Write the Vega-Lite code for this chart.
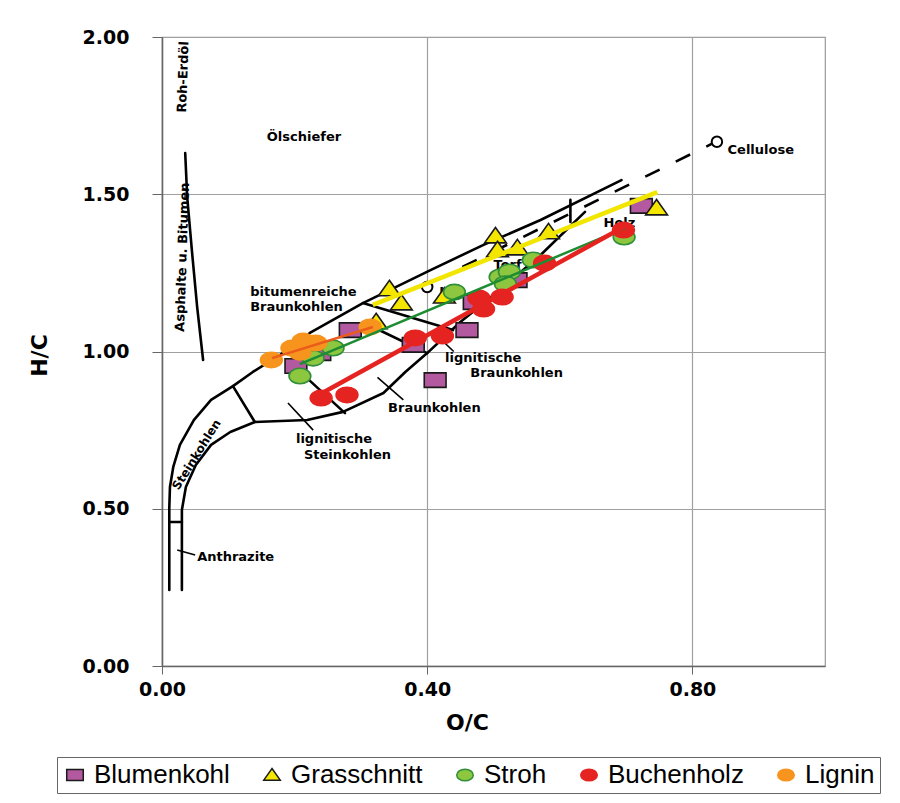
{
  "$schema": "https://vega.github.io/schema/vega-lite/v6.json",
  "width": 663,
  "height": 629,
  "autosize": "none",
  "padding": {"left": 162, "top": 37, "right": 75, "bottom": 137},
  "background": "white",
  "config": {
    "view": {"stroke": "#9a9a9a", "strokeWidth": 1.2},
    "font": "DejaVu Sans",
    "legend": {
      "orient": "none",
      "legendX": -105,
      "legendY": 720,
      "direction": "horizontal",
      "columns": 5,
      "strokeColor": "#666666",
      "padding": 5,
      "labelFont": "Liberation Sans",
      "labelFontSize": 26,
      "labelColor": "black",
      "symbolSize": 190,
      "symbolStrokeWidth": 1.5,
      "symbolOpacity": 1,
      "columnPadding": 29,
      "labelOffset": 6
    }
  },
  "datasets": {
    "bnd": [
      {"p": "A", "i": 0, "x": 0.011, "y": 0.242},
      {"p": "A", "i": 1, "x": 0.011, "y": 0.502},
      {"p": "A", "i": 2, "x": 0.012, "y": 0.569},
      {"p": "A", "i": 3, "x": 0.017, "y": 0.633},
      {"p": "A", "i": 4, "x": 0.027, "y": 0.703},
      {"p": "A", "i": 5, "x": 0.048, "y": 0.782},
      {"p": "A", "i": 6, "x": 0.074, "y": 0.846},
      {"p": "A", "i": 7, "x": 0.107, "y": 0.890},
      {"p": "A", "i": 8, "x": 0.137, "y": 0.935},
      {"p": "A", "i": 9, "x": 0.178, "y": 0.989},
      {"p": "A", "i": 10, "x": 0.223, "y": 1.059},
      {"p": "A", "i": 11, "x": 0.303, "y": 1.154},
      {"p": "A", "i": 12, "x": 0.405, "y": 1.259},
      {"p": "A", "i": 13, "x": 0.485, "y": 1.339},
      {"p": "A", "i": 14, "x": 0.571, "y": 1.418},
      {"p": "A", "i": 15, "x": 0.693, "y": 1.545},
      {"p": "B", "i": 0, "x": 0.030, "y": 0.242},
      {"p": "B", "i": 1, "x": 0.030, "y": 0.496},
      {"p": "B", "i": 2, "x": 0.036, "y": 0.569},
      {"p": "B", "i": 3, "x": 0.051, "y": 0.639},
      {"p": "B", "i": 4, "x": 0.074, "y": 0.703},
      {"p": "B", "i": 5, "x": 0.103, "y": 0.744},
      {"p": "B", "i": 6, "x": 0.140, "y": 0.776},
      {"p": "B", "i": 7, "x": 0.219, "y": 0.782},
      {"p": "B", "i": 8, "x": 0.273, "y": 0.808},
      {"p": "B", "i": 9, "x": 0.334, "y": 0.868},
      {"p": "B", "i": 10, "x": 0.367, "y": 0.935},
      {"p": "B", "i": 11, "x": 0.400, "y": 0.995},
      {"p": "B", "i": 12, "x": 0.450, "y": 1.094},
      {"p": "B", "i": 13, "x": 0.510, "y": 1.196},
      {"p": "B", "i": 14, "x": 0.571, "y": 1.307},
      {"p": "B", "i": 15, "x": 0.638, "y": 1.444},
      {"p": "C", "i": 0, "x": 0.011, "y": 0.458},
      {"p": "C", "i": 1, "x": 0.030, "y": 0.458},
      {"p": "D", "i": 0, "x": 0.107, "y": 0.890},
      {"p": "D", "i": 1, "x": 0.140, "y": 0.776},
      {"p": "E", "i": 0, "x": 0.202, "y": 0.948},
      {"p": "E", "i": 1, "x": 0.276, "y": 0.804},
      {"p": "F", "i": 0, "x": 0.303, "y": 1.154},
      {"p": "F", "i": 1, "x": 0.439, "y": 1.068},
      {"p": "G", "i": 0, "x": 0.318, "y": 1.078},
      {"p": "G", "i": 1, "x": 0.400, "y": 0.995},
      {"p": "T", "i": 0, "x": 0.616, "y": 1.482},
      {"p": "T", "i": 1, "x": 0.616, "y": 1.412},
      {"p": "H", "i": 0, "x": 0.035, "y": 1.631},
      {"p": "H", "i": 1, "x": 0.038, "y": 1.491},
      {"p": "H", "i": 2, "x": 0.045, "y": 1.323},
      {"p": "H", "i": 3, "x": 0.053, "y": 1.142},
      {"p": "H", "i": 4, "x": 0.062, "y": 0.973}
    ],
    "ptr": [
      {"p": "P1", "i": 0, "x": 0.325, "y": 0.918},
      {"p": "P1", "i": 1, "x": 0.364, "y": 0.846},
      {"p": "P2", "i": 0, "x": 0.415, "y": 1.050},
      {"p": "P2", "i": 1, "x": 0.440, "y": 1.000},
      {"p": "P3", "i": 0, "x": 0.190, "y": 0.836},
      {"p": "P3", "i": 1, "x": 0.228, "y": 0.750},
      {"p": "P4", "i": 0, "x": 0.023, "y": 0.369},
      {"p": "P4", "i": 1, "x": 0.050, "y": 0.353}
    ],
    "dash": [
      {"i": 0, "x": 0.453, "y": 1.269},
      {"i": 1, "x": 0.829, "y": 1.660}
    ],
    "ref": [
      {"name": "Cellulose", "x": 0.837, "y": 1.667},
      {"name": "Lignin", "x": 0.400, "y": 1.205}
    ],
    "labels": [
      {"t": "Ölschiefer", "x": 0.158, "y": 1.682},
      {"t": "bitumenreiche", "x": 0.133, "y": 1.189},
      {"t": "Braunkohlen", "x": 0.133, "y": 1.141},
      {"t": "lignitische", "x": 0.427, "y": 0.979},
      {"t": "Braunkohlen", "x": 0.465, "y": 0.932},
      {"t": "Braunkohlen", "x": 0.341, "y": 0.820},
      {"t": "lignitische", "x": 0.202, "y": 0.722},
      {"t": "Steinkohlen", "x": 0.214, "y": 0.671},
      {"t": "Anthrazite", "x": 0.053, "y": 0.347},
      {"t": "Cellulose", "x": 0.853, "y": 1.641},
      {"t": "Torf", "x": 0.500, "y": 1.275},
      {"t": "Holz", "x": 0.666, "y": 1.409},
      {"t": "L", "x": 0.418, "y": 1.190}
    ],
    "vlabels": [
      {"t": "Roh-Erdöl", "x": 0.032, "y": 1.873},
      {"t": "Asphalte u. Bitumen", "x": 0.031, "y": 1.300}
    ],
    "slabels": [
      {"t": "Steinkohlen", "x": 0.052, "y": 0.672}
    ],
    "pts": [
      {"series": "Blumenkohl", "oc": 0.202, "hc": 0.954},
      {"series": "Blumenkohl", "oc": 0.238, "hc": 0.995},
      {"series": "Blumenkohl", "oc": 0.284, "hc": 1.068},
      {"series": "Blumenkohl", "oc": 0.379, "hc": 1.021},
      {"series": "Blumenkohl", "oc": 0.412, "hc": 0.909},
      {"series": "Blumenkohl", "oc": 0.460, "hc": 1.068},
      {"series": "Blumenkohl", "oc": 0.471, "hc": 1.157},
      {"series": "Blumenkohl", "oc": 0.534, "hc": 1.227},
      {"series": "Blumenkohl", "oc": 0.723, "hc": 1.463},
      {"series": "Grasschnitt", "oc": 0.343, "hc": 1.199},
      {"series": "Grasschnitt", "oc": 0.361, "hc": 1.154},
      {"series": "Grasschnitt", "oc": 0.323, "hc": 1.094},
      {"series": "Grasschnitt", "oc": 0.426, "hc": 1.176},
      {"series": "Grasschnitt", "oc": 0.503, "hc": 1.367},
      {"series": "Grasschnitt", "oc": 0.506, "hc": 1.323},
      {"series": "Grasschnitt", "oc": 0.536, "hc": 1.329},
      {"series": "Grasschnitt", "oc": 0.583, "hc": 1.380},
      {"series": "Grasschnitt", "oc": 0.746, "hc": 1.456},
      {"series": "Stroh", "oc": 0.208, "hc": 0.922},
      {"series": "Stroh", "oc": 0.228, "hc": 0.979},
      {"series": "Stroh", "oc": 0.258, "hc": 1.011},
      {"series": "Stroh", "oc": 0.441, "hc": 1.189},
      {"series": "Stroh", "oc": 0.510, "hc": 1.237},
      {"series": "Stroh", "oc": 0.524, "hc": 1.253},
      {"series": "Stroh", "oc": 0.518, "hc": 1.215},
      {"series": "Stroh", "oc": 0.560, "hc": 1.291},
      {"series": "Stroh", "oc": 0.697, "hc": 1.364},
      {"series": "Buchenholz", "oc": 0.240, "hc": 0.852},
      {"series": "Buchenholz", "oc": 0.279, "hc": 0.862},
      {"series": "Buchenholz", "oc": 0.382, "hc": 1.043},
      {"series": "Buchenholz", "oc": 0.423, "hc": 1.049},
      {"series": "Buchenholz", "oc": 0.478, "hc": 1.170},
      {"series": "Buchenholz", "oc": 0.485, "hc": 1.135},
      {"series": "Buchenholz", "oc": 0.513, "hc": 1.173},
      {"series": "Buchenholz", "oc": 0.577, "hc": 1.281},
      {"series": "Buchenholz", "oc": 0.696, "hc": 1.386},
      {"series": "Lignin", "oc": 0.165, "hc": 0.973},
      {"series": "Lignin", "oc": 0.196, "hc": 1.011},
      {"series": "Lignin", "oc": 0.213, "hc": 1.033},
      {"series": "Lignin", "oc": 0.232, "hc": 1.027},
      {"series": "Lignin", "oc": 0.208, "hc": 0.998},
      {"series": "Lignin", "oc": 0.314, "hc": 1.078}
    ],
    "fits": [
      {"series": "Grasschnitt", "oc": 0.318, "hc": 1.148},
      {"series": "Grasschnitt", "oc": 0.747, "hc": 1.507},
      {"series": "Stroh", "oc": 0.208, "hc": 0.960},
      {"series": "Stroh", "oc": 0.699, "hc": 1.393},
      {"series": "Buchenholz", "oc": 0.228, "hc": 0.852},
      {"series": "Buchenholz", "oc": 0.699, "hc": 1.399},
      {"series": "Lignin", "oc": 0.166, "hc": 0.979},
      {"series": "Lignin", "oc": 0.318, "hc": 1.078}
    ]
  },
  "layer": [
    {
      "data": {"name": "bnd"},
      "mark": {"type": "line", "color": "black", "strokeWidth": 2.6, "strokeJoin": "round", "strokeCap": "round"},
      "encoding": {
        "x": {
          "field": "x", "type": "quantitative",
          "scale": {"domain": [0, 1], "nice": false, "zero": false},
          "axis": {
            "values": [0, 0.4, 0.8], "format": ".2f", "labelFlush": false,
            "labelFont": "DejaVu Sans", "labelFontWeight": "bold", "labelFontSize": 19, "labelColor": "black",
            "labelPadding": 6, "tickSize": 8, "tickColor": "#666666", "domainColor": "#666666", "domainWidth": 1.5,
            "gridColor": "#a0a0a0", "gridWidth": 1.2,
            "title": "O/C", "titleFont": "DejaVu Sans", "titleFontWeight": "bold", "titleFontSize": 22, "titleColor": "black",
            "titleX": 305, "titleY": 56, "titleAlign": "center", "titleBaseline": "middle"
          }
        },
        "y": {
          "field": "y", "type": "quantitative",
          "scale": {"domain": [0, 2], "nice": false, "zero": false},
          "axis": {
            "values": [0, 0.5, 1, 1.5, 2], "format": ".2f", "labelFlush": false,
            "labelFont": "DejaVu Sans", "labelFontWeight": "bold", "labelFontSize": 19, "labelColor": "black",
            "labelPadding": 23, "tickSize": 10, "tickColor": "#666666", "domainColor": "#666666", "domainWidth": 1.5,
            "gridColor": "#a0a0a0", "gridWidth": 1.2,
            "title": "H/C", "titleFont": "DejaVu Sans", "titleFontWeight": "bold", "titleFontSize": 22, "titleColor": "black",
            "titleX": -123, "titleY": 318, "titleAlign": "center", "titleBaseline": "middle", "titleAngle": -90
          }
        },
        "detail": {"field": "p"},
        "order": {"field": "i"}
      }
    },
    {
      "data": {"name": "ptr"},
      "mark": {"type": "line", "color": "black", "strokeWidth": 1.6},
      "encoding": {
        "x": {"field": "x", "type": "quantitative"},
        "y": {"field": "y", "type": "quantitative"},
        "detail": {"field": "p"},
        "order": {"field": "i"}
      }
    },
    {
      "data": {"name": "dash"},
      "mark": {"type": "line", "color": "black", "strokeWidth": 2.6, "strokeDash": [16, 18]},
      "encoding": {
        "x": {"field": "x", "type": "quantitative"},
        "y": {"field": "y", "type": "quantitative"},
        "order": {"field": "i"}
      }
    },
    {
      "data": {"name": "ref"},
      "mark": {"type": "point", "shape": "circle", "size": 110, "filled": true, "fill": "white", "stroke": "black", "strokeWidth": 2, "opacity": 1},
      "encoding": {
        "x": {"field": "x", "type": "quantitative"},
        "y": {"field": "y", "type": "quantitative"}
      }
    },
    {
      "data": {"name": "labels"},
      "mark": {"type": "text", "font": "DejaVu Sans", "fontWeight": "bold", "fontSize": 13, "align": "left", "baseline": "middle", "color": "black"},
      "encoding": {
        "x": {"field": "x", "type": "quantitative"},
        "y": {"field": "y", "type": "quantitative"},
        "text": {"field": "t"}
      }
    },
    {
      "data": {"name": "vlabels"},
      "mark": {"type": "text", "font": "DejaVu Sans", "fontWeight": "bold", "fontSize": 13, "align": "center", "baseline": "middle", "angle": -88, "color": "black"},
      "encoding": {
        "x": {"field": "x", "type": "quantitative"},
        "y": {"field": "y", "type": "quantitative"},
        "text": {"field": "t"}
      }
    },
    {
      "data": {"name": "slabels"},
      "mark": {"type": "text", "font": "DejaVu Sans", "fontWeight": "bold", "fontSize": 12, "align": "center", "baseline": "middle", "angle": -58, "color": "black"},
      "encoding": {
        "x": {"field": "x", "type": "quantitative"},
        "y": {"field": "y", "type": "quantitative"},
        "text": {"field": "t"}
      }
    },
    {
      "data": {"name": "pts"},
      "mark": {"type": "point", "filled": true, "strokeWidth": 1.6, "opacity": 1, "size": 330},
      "encoding": {
        "x": {"field": "oc", "type": "quantitative"},
        "y": {"field": "hc", "type": "quantitative"},
        "fill": {
          "field": "series", "type": "nominal", "title": null,
          "scale": {"domain": ["Blumenkohl", "Grasschnitt", "Stroh", "Buchenholz", "Lignin"], "range": ["#b3599f", "#f5e600", "#8dc63f", "#e52421", "#f7941d"]}
        },
        "stroke": {
          "field": "series", "type": "nominal", "title": null,
          "scale": {"domain": ["Blumenkohl", "Grasschnitt", "Stroh", "Buchenholz", "Lignin"], "range": ["#1a1a1a", "#1a1a1a", "#2f8f3a", "#e52421", "#f7941d"]}
        },
        "shape": {
          "field": "series", "type": "nominal", "title": null,
          "scale": {"domain": ["Blumenkohl", "Grasschnitt", "Stroh", "Buchenholz", "Lignin"], "range": ["M-1.2,-0.8H1.2V0.8H-1.2Z", "M0,-0.95L1.2,0.75H-1.2Z", "M-1.2,0A1.2,0.85 0 1,0 1.2,0A1.2,0.85 0 1,0 -1.2,0Z", "M-1.2,0A1.2,0.85 0 1,0 1.2,0A1.2,0.85 0 1,0 -1.2,0Z", "M-1.2,0A1.2,0.85 0 1,0 1.2,0A1.2,0.85 0 1,0 -1.2,0Z"]}
        }
      }
    },
    {
      "data": {"name": "fits"},
      "transform": [{"filter": "datum.series === 'Grasschnitt'"}],
      "mark": {"type": "line", "color": "#f2e500", "strokeWidth": 4.5},
      "encoding": {"x": {"field": "oc", "type": "quantitative"}, "y": {"field": "hc", "type": "quantitative"}}
    },
    {
      "data": {"name": "fits"},
      "transform": [{"filter": "datum.series === 'Stroh'"}],
      "mark": {"type": "line", "color": "#1e8c32", "strokeWidth": 2.5},
      "encoding": {"x": {"field": "oc", "type": "quantitative"}, "y": {"field": "hc", "type": "quantitative"}}
    },
    {
      "data": {"name": "fits"},
      "transform": [{"filter": "datum.series === 'Buchenholz'"}],
      "mark": {"type": "line", "color": "#e52421", "strokeWidth": 4.5},
      "encoding": {"x": {"field": "oc", "type": "quantitative"}, "y": {"field": "hc", "type": "quantitative"}}
    },
    {
      "data": {"name": "fits"},
      "transform": [{"filter": "datum.series === 'Lignin'"}],
      "mark": {"type": "line", "color": "#ea5b1c", "strokeWidth": 2.5},
      "encoding": {"x": {"field": "oc", "type": "quantitative"}, "y": {"field": "hc", "type": "quantitative"}}
    }
  ]
}
